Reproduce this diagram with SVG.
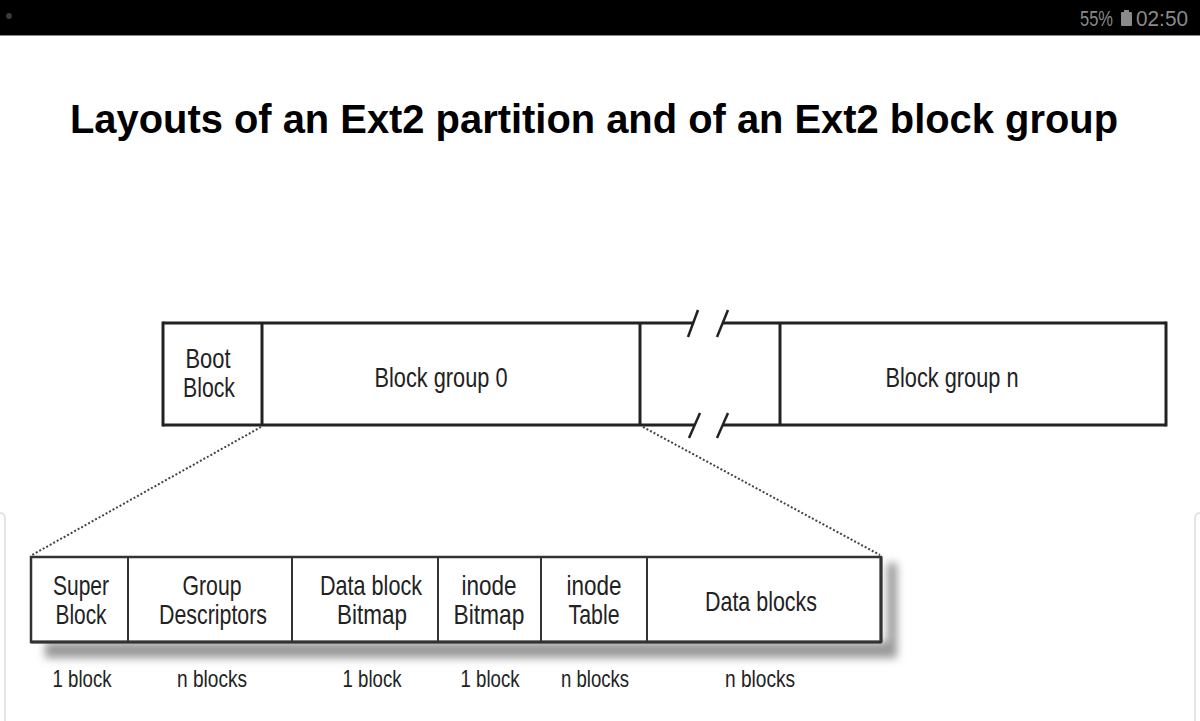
<svg xmlns="http://www.w3.org/2000/svg" width="1200" height="721" viewBox="0 0 1200 721">
<defs>
<style>
.lbl{font-family:"Liberation Sans",Arial,sans-serif;font-size:28px;fill:#222;text-anchor:middle}
.sm{font-family:"Liberation Sans",Arial,sans-serif;font-size:24px;fill:#222;text-anchor:middle}
.st{font-family:"Liberation Sans",Arial,sans-serif;font-size:22px;fill:#8a8a8a}
.div{stroke:#222;stroke-width:3}
.div2{stroke:#333;stroke-width:2}
.dot{stroke:#444;stroke-width:2;stroke-dasharray:2 2;fill:none}
</style>
<filter id="sh" x="-5%" y="-20%" width="115%" height="150%">
<feGaussianBlur stdDeviation="4"/>
</filter>
</defs>
<rect width="1200" height="721" fill="#fff"/>
<g id="statusbar">
<rect x="0" y="0" width="1200" height="35" fill="#000"/>
<line x1="0" y1="35.5" x2="1200" y2="35.5" stroke="#888" stroke-width="1"/>
<circle cx="9" cy="16" r="3" fill="#3a3a3a"/>
<text class="st" x="1080" y="26" textLength="33" lengthAdjust="spacingAndGlyphs">55%</text>
<rect x="1121" y="12" width="11" height="14" rx="1" fill="#8a8a8a"/>
<rect x="1124" y="10" width="5" height="2" fill="#8a8a8a"/>
<text class="st" x="1136" y="26" textLength="52" lengthAdjust="spacingAndGlyphs">02:50</text>
</g>
<g id="frame" fill="none" stroke="#ddd" stroke-width="1.5">
<path d="M 5 721 V 518 Q 5 513 0 513"/>
<path d="M 1195 721 V 518 Q 1195 513 1200 513"/>
</g>
<text id="title" x="70" y="133" font-family="Liberation Sans,Arial,sans-serif" font-weight="bold" font-size="41" fill="#000" textLength="1048" lengthAdjust="spacingAndGlyphs">Layouts of an Ext2 partition and of an Ext2 block group</text>

<g id="partition">
<line x1="163" y1="323" x2="694" y2="323" class="div"/>
<line x1="723" y1="323" x2="1166" y2="323" class="div"/>
<line x1="163" y1="425" x2="694" y2="425" class="div"/>
<line x1="723" y1="425" x2="1166" y2="425" class="div"/>
<line x1="163" y1="321.5" x2="163" y2="426.5" class="div"/>
<line x1="1166" y1="321.5" x2="1166" y2="426.5" class="div"/>
<g id="breaks" stroke="#222" stroke-width="2.5">
<line x1="688" y1="337" x2="698" y2="310"/>
<line x1="717" y1="337" x2="728" y2="310"/>
<line x1="689" y1="438" x2="700" y2="413"/>
<line x1="717" y1="438" x2="728" y2="413"/>
</g>
</g>
<g id="boot-block">
<line x1="262" y1="323" x2="262" y2="425" class="div"/>
<text class="lbl" x="208" y="368" textLength="45" lengthAdjust="spacingAndGlyphs">Boot</text>
<text class="lbl" x="209" y="397" textLength="52" lengthAdjust="spacingAndGlyphs">Block</text>
</g>
<g id="block-group-0">
<line x1="640" y1="323" x2="640" y2="425" class="div"/>
<text class="lbl" x="441" y="387" textLength="133" lengthAdjust="spacingAndGlyphs">Block group 0</text>
</g>
<g id="gap">
<line x1="780" y1="323" x2="780" y2="425" class="div"/>
</g>
<g id="block-group-n">
<text class="lbl" x="952" y="387" textLength="133" lengthAdjust="spacingAndGlyphs">Block group n</text>
</g>

<g id="connectors">
<line x1="261" y1="427" x2="32" y2="555" class="dot"/>
<line x1="643" y1="427" x2="880" y2="555" class="dot"/>
</g>

<g id="group-row">
<path d="M 45 642 H 887 V 563 H 897 V 658 H 45 Z" fill="#999" filter="url(#sh)"/>
<rect x="31" y="557" width="850" height="85" fill="#fff" stroke="#333" stroke-width="2.5"/>
<line x1="31" y1="642" x2="881" y2="642" stroke="#333" stroke-width="3"/>
<line x1="881" y1="557" x2="881" y2="642" stroke="#333" stroke-width="3"/>
</g>
<g id="super-block">
<text class="lbl" x="81" y="595" textLength="56" lengthAdjust="spacingAndGlyphs">Super</text>
<text class="lbl" x="81" y="624" textLength="51" lengthAdjust="spacingAndGlyphs">Block</text>
<text class="sm" x="82" y="687" textLength="59" lengthAdjust="spacingAndGlyphs">1 block</text>
</g>
<g id="group-descriptors">
<line x1="128" y1="557" x2="128" y2="642" class="div2"/>
<text class="lbl" x="212" y="595" textLength="59" lengthAdjust="spacingAndGlyphs">Group</text>
<text class="lbl" x="213" y="624" textLength="108" lengthAdjust="spacingAndGlyphs">Descriptors</text>
<text class="sm" x="212" y="687" textLength="70" lengthAdjust="spacingAndGlyphs">n blocks</text>
</g>
<g id="data-block-bitmap">
<line x1="292" y1="557" x2="292" y2="642" class="div2"/>
<text class="lbl" x="371" y="595" textLength="102" lengthAdjust="spacingAndGlyphs">Data block</text>
<text class="lbl" x="372" y="624" textLength="70" lengthAdjust="spacingAndGlyphs">Bitmap</text>
<text class="sm" x="372" y="687" textLength="59" lengthAdjust="spacingAndGlyphs">1 block</text>
</g>
<g id="inode-bitmap">
<line x1="438" y1="557" x2="438" y2="642" class="div2"/>
<text class="lbl" x="489" y="595" textLength="55" lengthAdjust="spacingAndGlyphs">inode</text>
<text class="lbl" x="489" y="624" textLength="71" lengthAdjust="spacingAndGlyphs">Bitmap</text>
<text class="sm" x="490" y="687" textLength="59" lengthAdjust="spacingAndGlyphs">1 block</text>
</g>
<g id="inode-table">
<line x1="541" y1="557" x2="541" y2="642" class="div2"/>
<text class="lbl" x="594" y="595" textLength="55" lengthAdjust="spacingAndGlyphs">inode</text>
<text class="lbl" x="594" y="624" textLength="51" lengthAdjust="spacingAndGlyphs">Table</text>
<text class="sm" x="595" y="687" textLength="68" lengthAdjust="spacingAndGlyphs">n blocks</text>
</g>
<g id="data-blocks">
<line x1="647" y1="557" x2="647" y2="642" class="div2"/>
<text class="lbl" x="761" y="611" textLength="112" lengthAdjust="spacingAndGlyphs">Data blocks</text>
<text class="sm" x="760" y="687" textLength="70" lengthAdjust="spacingAndGlyphs">n blocks</text>
</g>
</svg>
